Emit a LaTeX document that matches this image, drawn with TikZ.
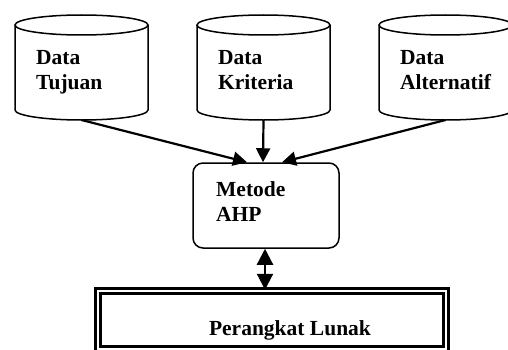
\documentclass[tikz,border=0pt]{standalone}
\usepackage{fontspec}
\setmainfont{Liberation Serif}
\usetikzlibrary{%
  arrows.meta,%
  calc,%
  positioning}

\tikzset{
  dbbox/.style={minimum width=133pt, minimum height=105pt, inner sep=0pt, outer sep=0pt},
  dbline/.style={line width=1.5pt},
  lbl/.style={font=\bfseries\fontsize{21.5}{25}\selectfont, align=left, inner sep=0pt},
  arr/.style={line width=2.2pt, -{Triangle[length=14pt,width=14pt]}},
  darr/.style={line width=2.2pt, {Triangle[length=16pt,width=16pt]}-{Triangle[length=16pt,width=16pt]}}
}

\begin{document}
\begin{tikzpicture}[x=1pt,y=1pt]
      \useasboundingbox (0,0) rectangle (508,349);
      \clip (0,0) rectangle (508,349);
      % data sources
      \node[dbbox] (db1) at (81.5,281.5) {};
      \node[dbbox] (db2) at (263.5,281.5) {};
      \node[dbbox] (db3) at (445.5,281.5) {};
      \foreach \d in {db1,db2,db3} {
        \draw[dbline] ([yshift=-10pt]\d.north) ellipse [x radius=66.5pt, y radius=10pt];
        \draw[dbline] ([yshift=-10pt]\d.north west) -- ([yshift=10pt]\d.south west)
          arc[start angle=180, end angle=360, x radius=66.5pt, y radius=10pt]
          -- ([yshift=-10pt]\d.north east);
      }
      \node[lbl,anchor=north west] (t1) at (36,299) {Data\\Tujuan};
      \node[lbl,anchor=north west] (t2) at (218,299) {Data\\Kriteria};
      \node[lbl,anchor=north west] (t3) at (400,299) {Data\\Alternatif};
      % method
      \node[draw,line width=1.5pt,rounded corners=10pt,minimum width=146pt,minimum height=85pt]
        (ahp) at (266,143.5) {};
      \node[lbl,anchor=north west] (ahptxt) at (216,168) {Metode\\AHP};
      % software
      \node[draw,line width=2.5pt,double,double distance=2.5pt,minimum width=348pt,minimum height=58pt,inner sep=0pt]
        (sw) at (272,29) {};
      \node[lbl,anchor=base] (swtxt) at (290,14) {Perangkat Lunak};
      % connectors
      \draw[arr] (db1.south) -- ([xshift=-19pt]ahp.north);
      \draw[arr] (db2.south) -- ([xshift=-3pt]ahp.north);
      \draw[arr] (db3.south) -- ([xshift=16pt]ahp.north);
      \draw[darr] ([xshift=-1pt]ahp.south) -- ([xshift=-1pt]ahp.south |- sw.north);
\end{tikzpicture}
\end{document}
